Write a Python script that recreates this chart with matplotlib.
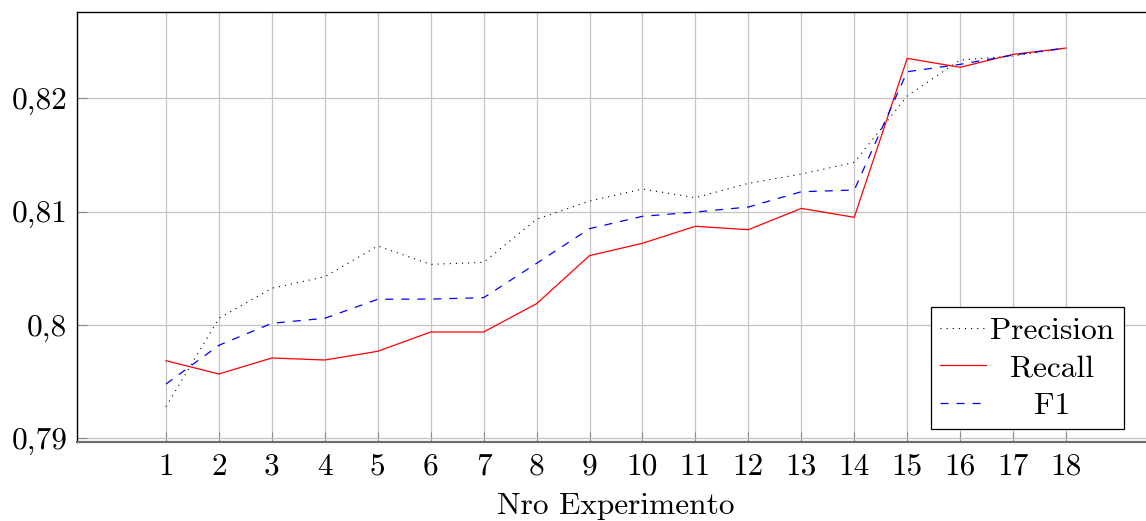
import numpy as np
import matplotlib
matplotlib.use("Agg")
import matplotlib.pyplot as plt

# datos
experimentos = list(range(1, 19))
precision = [0.79279, 0.80059, 0.80324, 0.80426, 0.80697, 0.80535, 0.80553, 0.80933, 0.81094,
             0.81200, 0.81123, 0.81250, 0.81332, 0.81435, 0.82021, 0.82338, 0.82374, 0.82444]
recall = [0.79685, 0.79568, 0.79709, 0.79691, 0.79768, 0.79938, 0.79938, 0.80188, 0.80612,
          0.80721, 0.80871, 0.80841, 0.81029, 0.80950, 0.82353, 0.82274, 0.82388, 0.82444]
f1 = [0.79479, 0.79821, 0.80015, 0.80059, 0.80227, 0.80229, 0.80241, 0.80544, 0.80850,
      0.80959, 0.80997, 0.81041, 0.81176, 0.81191, 0.82235, 0.82300, 0.82382, 0.82444]
y_ticks = [0.79, 0.80, 0.81, 0.82]
y_tick_labels = ["0,79", "0,8", "0,81", "0,82"]

plt.rcParams['font.family'] = ['cmr10', 'DejaVu Serif']
plt.rcParams['font.size'] = 22.6
plt.rcParams['axes.unicode_minus'] = False

fig = plt.figure(figsize=(11.46, 5.21), dpi=100)
W, H = 1146, 521
ax = fig.add_axes([77 / W, (H - 442) / H, (1155 - 77) / W, (442 - 12) / H])

ax.plot(experimentos, precision, color='black', lw=0.8, dashes=(1, 4.5), label="Precision")
ax.plot(experimentos, recall, color='red', lw=0.9, label="Recall")
ax.plot(experimentos, f1, color='blue', lw=0.9, dashes=(6.4, 6.4), label="F1")

ax.set_xlim(-0.68, 19.68)
ax.set_ylim(0.789676, 0.827619)
ax.set_xticks(experimentos)
ax.set_yticks(y_ticks)
ax.set_yticklabels(y_tick_labels)
ax.grid(True, color='#c4c4c4', lw=0.9)
ax.set_axisbelow(True)
ax.tick_params(direction='in', length=7.5, width=0.8, color='#8a8a8a', pad=7)
ax.tick_params(axis='x', pad=8)
ax.set_xlabel("Nro Experimento", labelpad=9)

ax.spines['right'].set_visible(False)
ax.spines['left'].set_linewidth(1.0)
ax.spines['top'].set_linewidth(1.0)
ax.spines['bottom'].set_color('#6e6e6e')
ax.spines['bottom'].set_linewidth(1.6)

leg = ax.legend(loc='lower right', bbox_to_anchor=(1124 / W, (H - 429) / H),
                bbox_transform=fig.transFigure, borderaxespad=0, fancybox=False,
                edgecolor='black', framealpha=1, handlelength=1.45, handletextpad=0.15,
                labelspacing=0.3, borderpad=0.3)
leg.get_frame().set_linewidth(0.9)

# centrar textos de la leyenda como en pgfplots
fig.canvas.draw()
renderer = fig.canvas.get_renderer()
anchos = [t.get_window_extent(renderer).width for t in leg.get_texts()]
for t, w in zip(leg.get_texts(), anchos):
    t.set_position(((max(anchos) - w) / 2, 0))

fig.savefig("out.png", dpi=100)
